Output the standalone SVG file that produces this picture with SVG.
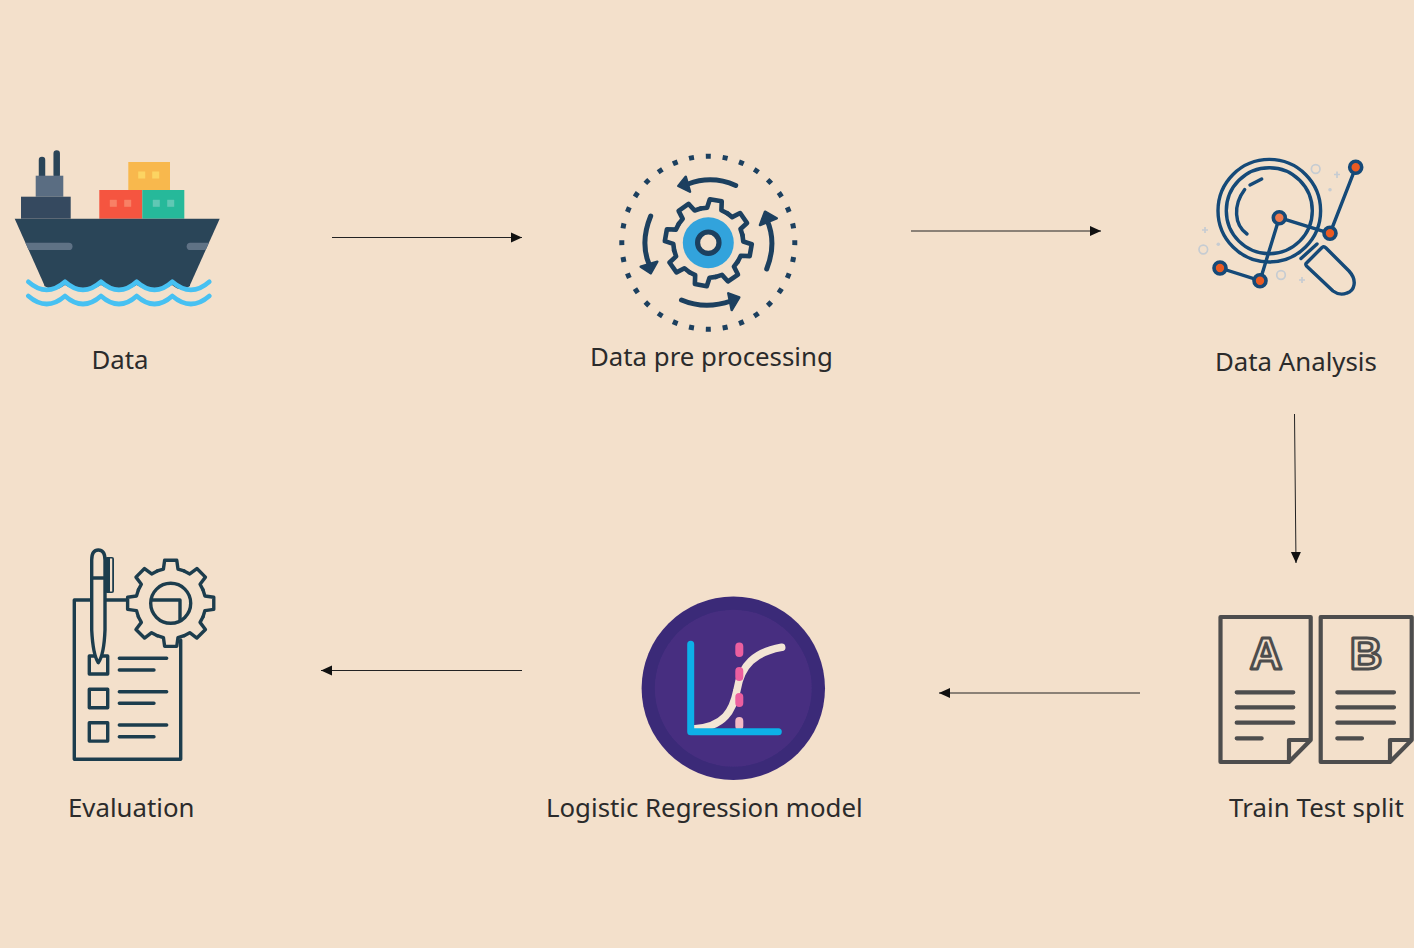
<svg xmlns="http://www.w3.org/2000/svg" width="1414" height="948" viewBox="0 0 1414 948">
<style>
.lbl{font-family:"Noto Sans","Open Sans","Liberation Sans",sans-serif;font-size:25.8px;fill:#2b2b2b}
.conn{stroke:#222;stroke-width:1;fill:none;marker-end:url(#ah)}
.navy{stroke:#1b3f5f;fill:none;stroke-linecap:round;stroke-linejoin:round}
.glass{stroke:#124a78;stroke-width:3.4;fill:none;stroke-linecap:round;stroke-linejoin:round}
.node{fill:#ea5a24;stroke:#124a78;stroke-width:3.6}
.faint{stroke:#c6ccd2;stroke-width:1.7;fill:none}
.doc{stroke:#4d4d4d;stroke-width:4.2;fill:none;stroke-linecap:round;stroke-linejoin:round}
.letter{font-family:"Liberation Sans",sans-serif;font-weight:700;font-size:45px;fill:#f3e0cb;stroke:#4d4d4d;stroke-width:3;stroke-linejoin:round;text-anchor:middle}
.eval{stroke:#1e3d4e;stroke-width:3.4;fill:none;stroke-linejoin:round;stroke-linecap:round}
.wave{stroke:#47c1f2;stroke-width:4.6;fill:none;stroke-linecap:round;stroke-linejoin:round}
.head{fill:#1b3f5f;stroke:#1b3f5f;stroke-width:2.5;stroke-linejoin:round}
</style>
<defs>
<filter id="soft" x="-5%" y="-5%" width="110%" height="110%"><feGaussianBlur stdDeviation="0.45"/></filter>
<marker id="ah" markerUnits="userSpaceOnUse" markerWidth="12" markerHeight="12" refX="11" refY="6" orient="auto"><path d="M0,1 L11,6 L0,11 Z" fill="#111"/></marker>
<path id="tooth" d="M-13.39,-32.34 L-7.28,-34.23 L-6.05,-43.08 L6.05,-43.08 L7.28,-34.23 L13.39,-32.34"/>
<g id="gear">
<use href="#tooth"/><use href="#tooth" transform="rotate(45)"/><use href="#tooth" transform="rotate(90)"/><use href="#tooth" transform="rotate(135)"/><use href="#tooth" transform="rotate(180)"/><use href="#tooth" transform="rotate(225)"/><use href="#tooth" transform="rotate(270)"/><use href="#tooth" transform="rotate(315)"/>
</g>
<clipPath id="hullclip"><path d="M14.7,218.7 H219.7 L190,285 H44.3 Z"/></clipPath>
</defs>
<rect width="1414" height="948" fill="#f3e0cb"/>

<g id="connectors">
<path class="conn" d="M332,237.5 H522"/>
<path class="conn" d="M911,231 H1101"/>
<path class="conn" d="M1294.5,414 L1296,563"/>
<path class="conn" d="M1140,693 H939"/>
<path class="conn" d="M522,670.5 H321"/>
</g>

<g id="node-data">
<g filter="url(#soft)">
<path d="M42,177 V160 M56.7,175 V153.5" stroke="#2c4459" stroke-width="6.5" stroke-linecap="round" fill="none"/>
<rect x="35.7" y="175.7" width="27.6" height="21" fill="#5a6d82"/>
<rect x="21" y="196.7" width="49.7" height="22" fill="#35495e"/>
<rect x="128.3" y="162" width="41.7" height="28" fill="#f8b84e"/>
<rect x="99.3" y="190" width="43" height="28.7" fill="#f5543f"/>
<rect x="142.3" y="190" width="42" height="28.7" fill="#26b99a"/>
<g fill="#fcd462"><rect x="138.2" y="171.5" width="7" height="7"/><rect x="152.2" y="171.5" width="7" height="7"/></g>
<g fill="#f88065"><rect x="109.8" y="199.8" width="7" height="7"/><rect x="124.2" y="199.8" width="7" height="7"/></g>
<g fill="#60c8b4"><rect x="152.8" y="199.8" width="7" height="7"/><rect x="167.2" y="199.8" width="7" height="7"/></g>
<path d="M14.7,218.7 H219.7 L190,285 H44.3 Z" fill="#2c4459"/>
<g clip-path="url(#hullclip)" fill="#5f7285"><rect x="10" y="242.7" width="62.5" height="7.4" rx="3.7"/><rect x="186.7" y="242.7" width="40" height="7.4" rx="3.7"/></g>
<path d="M44.3,284 H190 V286 Q181,293 172,285 Q154,296 136.7,285 Q119,296 101,285 Q83,296 65,285 Q55,293 44.3,286 Z" fill="#2c4459"/>
<path class="wave" d="M28.3,281.7 Q46.7,298 65,281.7 Q83,298 101,281.7 Q119,298 136.7,281.7 Q154.5,298 172.3,281.7 Q191,298 209.3,281.7"/>
<path class="wave" d="M28.3,296 Q46.7,312 65,296 Q83,312 101,296 Q119,312 136.7,296 Q154.5,312 172.3,296 Q191,312 209.3,296"/>
</g>
<text class="lbl" x="91.5" y="369">Data</text>
</g>

<g id="node-preprocessing">
<g filter="url(#soft)">
<circle cx="708.3" cy="242.7" r="86.5" fill="none" stroke="#1b3f5f" stroke-width="5" pathLength="32" stroke-dasharray="0.3 0.7" stroke-dashoffset="0.15"/>
<circle cx="708.3" cy="242.7" r="25.5" fill="#33a3dc"/>
<circle cx="708.3" cy="242.7" r="10.7" fill="#f3e0cb" stroke="#1b3f5f" stroke-width="5.2"/>
<use href="#gear" class="navy" stroke-width="4.6" transform="translate(708.3 242.7) rotate(10)"/>
<path class="navy" stroke-width="5" d="M735.7,185.5 Q712,175 688,184"/>
<path class="head" d="M685.7,176.7 L690,191.7 L678.3,186 Z"/>
<path class="navy" stroke-width="5" d="M650.7,216 Q640,242 649,264"/>
<path class="head" d="M640.7,266.7 L657.3,261.7 L650.7,273.3 Z"/>
<path class="navy" stroke-width="5" d="M681.5,300 Q705,310 731,301"/>
<path class="head" d="M728.3,293.3 L739.3,297.3 L731.7,310 Z"/>
<path class="navy" stroke-width="5" d="M766.7,269 Q777,243 767,220"/>
<path class="head" d="M760,225 L776.7,218.3 L765,211.7 Z"/>
</g>
<text class="lbl" x="590" y="366">Data pre processing</text>
</g>

<g id="node-analysis">
<g filter="url(#soft)">
<g class="faint"><circle cx="1315.7" cy="169" r="4.3"/><circle cx="1203.3" cy="249.5" r="4.3"/><circle cx="1281" cy="275" r="4.3"/>
<path d="M1337,171.5 V178 M1334,174.5 H1340 M1205,227 V233 M1202,230 H1208 M1302,277 V283 M1299,280 H1305"/></g>
<circle cx="1330" cy="189.7" r="1.8" fill="#c6ccd2"/><circle cx="1218.3" cy="244.3" r="1.8" fill="#c6ccd2"/>
<circle class="glass" cx="1269.3" cy="210.7" r="51.3"/>
<circle class="glass" cx="1269.3" cy="210.7" r="43"/>
<path class="glass" d="M1244.7,189.5 C1233,205 1234,225 1247,234 M1250,185 L1261.7,179"/>
<path class="glass" d="M1301,258.5 L1317,244 M1306.5,263 L1322,247.5 Q1324,246 1326,248 L1349,271 C1358,281 1354,291 1347,293 C1342,295 1337,294 1333,291 L1306.5,266 Q1305,264 1306.5,263 Z"/>
<path class="glass" d="M1355.7,167.3 L1330,233.3 L1279.3,217.7 L1260,280.7 L1220,268"/>
<circle class="node" cx="1279.3" cy="217.7" r="6" style="fill:#ef7a4d"/>
<circle class="node" cx="1330" cy="233.3" r="6"/>
<circle class="node" cx="1355.7" cy="167.3" r="6"/>
<circle class="node" cx="1260" cy="280.7" r="6"/>
<circle class="node" cx="1220" cy="268" r="6"/>
</g>
<text class="lbl" x="1215" y="371">Data Analysis</text>
</g>

<g id="node-split">
<g filter="url(#soft)">
<path class="doc" d="M1220.5,617 H1310.7 V740 L1289,762 H1220.5 Z M1289,762 V740 H1310.7"/>
<path class="doc" d="M1236.7,692.3 H1293.3 M1236.7,707.3 H1293.3 M1236.7,722.7 H1293.3 M1236.7,738.3 H1261.7"/>
<path class="doc" d="M1320.7,617 H1411.7 V740 L1390,762 H1320.7 Z M1390,762 V740 H1411.7"/>
<path class="doc" d="M1337.3,692.3 H1394 M1337.3,707.3 H1394 M1337.3,722.7 H1394 M1337.3,738.3 H1362"/>
</g>
<text class="letter" x="1266" y="669">A</text>
<text class="letter" x="1366" y="669">B</text>
<text class="lbl" x="1229" y="817" letter-spacing="0.1">Train Test split</text>
</g>

<g id="node-model">
<g filter="url(#soft)">
<circle cx="733.3" cy="688.3" r="91.7" fill="#3b2a78"/>
<circle cx="733.3" cy="688.3" r="78.5" fill="#472f80"/>
<path d="M693,729 C725,727 733,710 737,690 C741,665 755,652 781.7,647.3" fill="none" stroke="#f3e5d5" stroke-width="7.5" stroke-linecap="round"/>
<g stroke-width="8" stroke-linecap="round" fill="none"><path stroke="#ec5f9f" d="M739.3,646.5 V653 M739.3,671 V677 M739.3,697 V703"/><path stroke="#f3b9c4" d="M739.3,721 V726"/></g>
<path d="M690.7,644.3 V731.7 H778.3" fill="none" stroke="#0bb0e8" stroke-width="7" stroke-linecap="round" stroke-linejoin="round"/>
</g>
<text class="lbl" x="546" y="817">Logistic Regression model</text>
</g>

<g id="node-evaluation">
<g filter="url(#soft)">
<path class="eval" d="M127,600 H74.3 V759.3 H180.7 V640 M151.7,600 H180 V620"/>
<use href="#gear" class="eval" transform="translate(170.7 603.3)"/>
<circle class="eval" cx="170.7" cy="603.3" r="20"/>
<rect class="eval" x="89.3" y="656" width="18.4" height="18"/>
<rect class="eval" x="89.3" y="689.3" width="18.4" height="18.4"/>
<rect class="eval" x="89.3" y="722.7" width="18.4" height="18.4"/>
<path class="eval" d="M119.3,658.3 H166.7 M119.3,670 H154 M119.3,691.7 H166.7 M119.3,703.3 H154 M119.3,725 H166.7 M119.3,736.7 H154"/>
<rect x="105" y="557" width="9" height="36" rx="2" fill="#1e3d4e"/>
<rect x="110" y="558.5" width="2.2" height="33" fill="#f3e0cb"/>
<path class="eval" d="M91.7,560 Q91.7,550 98.3,550 Q105,550 105,560 V630 Q104,655 98.3,662.7 Q93,655 91.7,630 Z M92,578 H105" style="fill:#f3e0cb"/>
</g>
<text class="lbl" x="68" y="817">Evaluation</text>
</g>
</svg>
